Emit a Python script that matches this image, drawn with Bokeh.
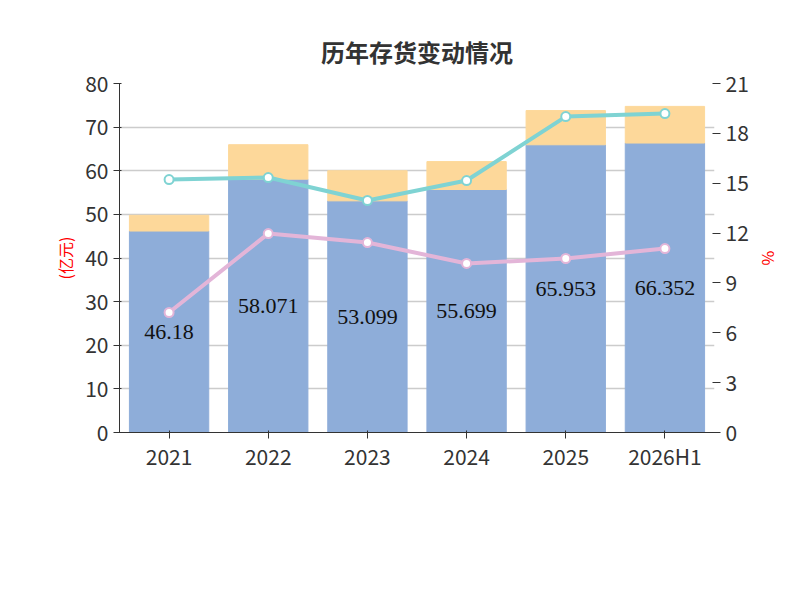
from bokeh.plotting import figure
from bokeh.models import (ColumnDataSource, Range1d, LinearAxis, FixedTicker, Legend, LegendItem,
                          Title, LabelSet)
from bokeh.embed import file_html
from bokeh.resources import INLINE

years = ["2021", "2022", "2023", "2024", "2025", "2026H1"]
book_value = [46.18, 58.071, 53.099, 55.699, 65.953, 66.352]
provision = [3.6, 7.9, 6.9, 6.4, 7.85, 8.4]
net_asset_ratio = [15.22, 15.34, 13.96, 15.16, 19.01, 19.19]
provision_ratio = [7.22, 11.97, 11.43, 10.17, 10.47, 11.07]

FONT = "Noto Sans CJK SC"
src = ColumnDataSource(dict(
    x=years, bv=book_value, pv=provision,
    top=[a + b for a, b in zip(book_value, provision)],
    mid=[a / 2 for a in book_value],
    lbl=[f"{v:g}" for v in book_value],
    r1=net_asset_ratio, r2=provision_ratio))

p = figure(x_range=years, y_range=Range1d(0, 80), frame_width=595, frame_height=349,
           output_backend="svg", toolbar_location=None,
           min_border_left=119, min_border_right=78, min_border_top=83, min_border_bottom=0)
p.outline_line_color = None
p.title.text = "历年存货变动情况"
p.title.align = "center"
p.title.text_font = FONT
p.title.text_font_size = "24px"
p.title.text_color = "#333333"
p.title.standoff = 30
p.x_range.range_padding = 0
p.extra_y_ranges = {"r": Range1d(0, 21)}

b1 = p.vbar(x="x", bottom=0, top="bv", width=0.8, color="#8eadd9", source=src)
b2 = p.vbar(x="x", bottom="bv", top="top", width=0.8, color="#fdd89a", source=src)
l1 = p.line(x="x", y="r1", y_range_name="r", color="#7fd3d3", line_width=4, source=src)
c1 = p.scatter(x="x", y="r1", y_range_name="r", size=9, fill_color="white", line_color="#7fd3d3", line_width=2, source=src)
l2 = p.line(x="x", y="r2", y_range_name="r", color="#e3b5d8", line_width=4, source=src)
c2 = p.scatter(x="x", y="r2", y_range_name="r", size=9, fill_color="white", line_color="#e3b5d8", line_width=2, source=src)

p.add_layout(LabelSet(x="x", y="mid", text="lbl", source=src, text_align="center", text_baseline="middle",
                      text_font_size="22px", text_font=FONT, text_color="#111111"))

p.yaxis[0].ticker = FixedTicker(ticks=list(range(0, 81, 10)))
p.yaxis[0].axis_label = "(亿元)"
ra = LinearAxis(y_range_name="r", ticker=FixedTicker(ticks=list(range(0, 22, 3))), axis_label="%")
p.add_layout(ra, "right")
for ax in (p.yaxis[0], ra, p.xaxis[0]):
    ax.major_label_text_font_size = "21px"
    ax.major_label_text_font = FONT
    ax.major_label_text_color = "#333333"
    ax.axis_line_color = "#333333"
    ax.major_tick_line_color = "#333333"
    ax.minor_tick_line_color = None
    ax.axis_label_text_color = "red"
    ax.axis_label_text_font_size = "16px"
    ax.axis_label_text_font_style = "normal"
    ax.axis_label_text_font = FONT
ra.axis_line_color = None
p.xaxis.major_label_standoff = 2
p.xgrid.grid_line_color = None
p.ygrid.grid_line_color = "#cccccc"
p.ygrid.grid_line_width = 1.5

legend = Legend(items=[
    LegendItem(label="存货账面价值", renderers=[b1]),
    LegendItem(label="存货跌价准备", renderers=[b2]),
    LegendItem(label="存货占净资产比例", renderers=[l1, c1]),
    LegendItem(label="存货计提比例", renderers=[l2, c2]),
], orientation="horizontal", ncols=3, glyph_width=50, glyph_height=28,
    label_text_font_size="22px", label_text_font=FONT, label_text_color="#333333",
    border_line_color=None, spacing=12, padding=0, margin=0, label_standoff=10,
    location=(-80, 0))
p.add_layout(legend, "below")
foot = Title(text="制图数据来自恒生聚源数据库", align="center", text_font=FONT, text_font_size="15px",
             text_color="#c8922a", text_font_style="normal", standoff=8)
p.add_layout(foot, "below")

open("out.html", "w").write(file_html(p, INLINE))
